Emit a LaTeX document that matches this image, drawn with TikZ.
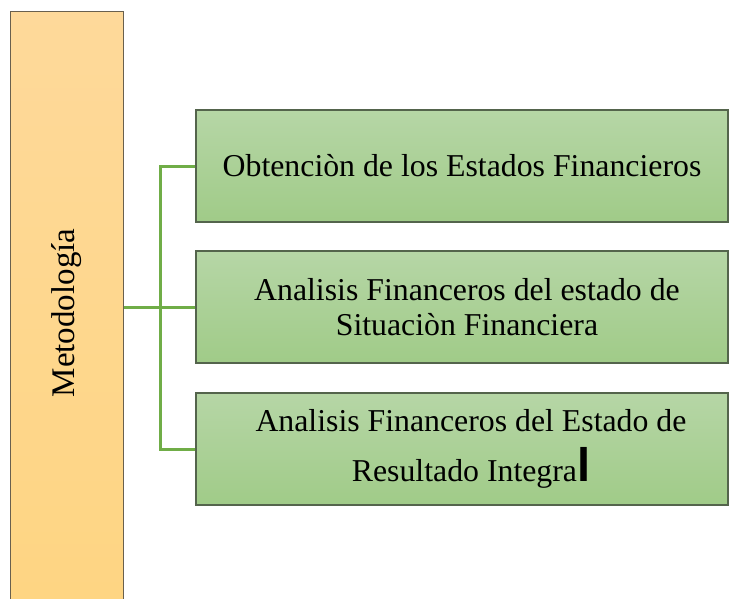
\documentclass[tikz,border=0pt]{standalone}
\usepackage{fontspec}
\setmainfont{Liberation Serif}
\newfontfamily\cursorfont{Liberation Sans}
\definecolor{barTop}{RGB}{254,217,154}
\definecolor{barBot}{RGB}{254,213,130}
\definecolor{barLine}{RGB}{105,96,78}
\definecolor{boxTop}{RGB}{182,214,166}
\definecolor{boxBot}{RGB}{160,203,136}
\definecolor{boxLine}{RGB}{84,100,76}
\definecolor{conn}{RGB}{112,173,71}
\tikzset{
  stepbox/.style={rectangle, draw=boxLine, line width=1.5pt, top color=boxTop, bottom color=boxBot,
    minimum width=532pt, minimum height=112pt, inner sep=0pt, align=center,
    font=\fontsize{31.8}{34.3}\selectfont, text=black},
  barbox/.style={rectangle, draw=barLine, line width=1.5pt, top color=barTop, bottom color=barBot,
    minimum width=113pt, minimum height=608.5pt, inner sep=0pt},
  barlabel/.style={rotate=90, font=\fontsize{33}{36}\selectfont, inner sep=0pt},
  link/.style={draw=conn, line width=3pt}
}
\begin{document}
\begin{tikzpicture}[x=1pt,y=-1pt]
\useasboundingbox (0,0) rectangle (736,598);
\fill[white] (0,0) rectangle (736,598);
\clip (0,0) rectangle (736,598);
\node[barbox] (bar) at (67,315.75) {};
\node[barlabel] (lbl) at (67,313) {Metodología};
\node[stepbox] (b1) at (462,166) {Obtenciòn de los Estados Financieros};
\node[stepbox] (b2) at (462,307) {\hspace*{10pt}Analisis Financeros del estado de\\\hspace*{10pt}Situaciòn Financiera};
\node[stepbox] (b3) at (462,449) {\hspace*{18pt}Analisis Financeros del Estado de\\[14.7pt]\hspace*{18pt}Resultado Integra{\cursorfont\fontsize{47}{47}\selectfont\bfseries l}};
\coordinate (j) at (160,307);
\draw[link] (bar.east |- b2.west) -- (b2.west);
\draw[link] (b1.west) -- (b1.west -| j) -- (b3.west -| j) -- (b3.west);
\end{tikzpicture}
\end{document}
